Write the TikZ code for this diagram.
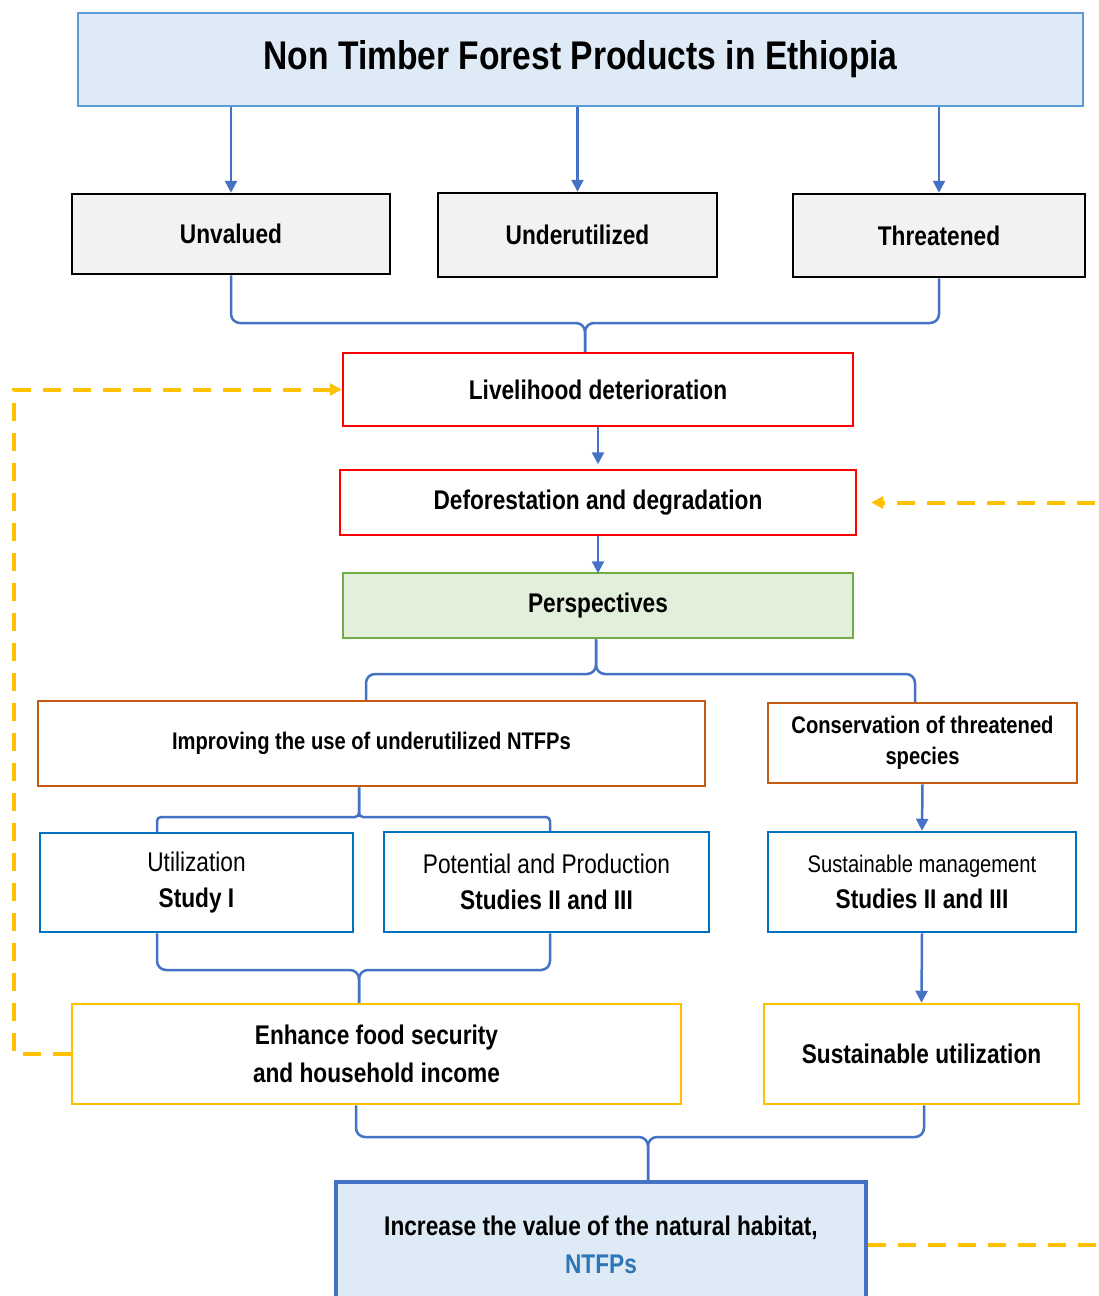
\documentclass[tikz,border=0pt]{standalone}
\usepackage{fontspec}
\setmainfont[FakeStretch=0.84]{Liberation Sans}
\usepackage{tikz}
\usetikzlibrary{arrows.meta}

\definecolor{lightblue}{HTML}{DEEBF7}
\definecolor{titleblue}{HTML}{5B9BD5}
\definecolor{linkblue}{HTML}{4472C4}
\definecolor{studyblue}{HTML}{0070C0}
\definecolor{textblue}{HTML}{2E75B6}
\definecolor{lightgrey}{HTML}{F2F2F2}
\definecolor{lightgreen}{HTML}{E2EFDA}
\definecolor{leafgreen}{HTML}{70AD47}
\definecolor{rust}{HTML}{C55A11}
\definecolor{amber}{HTML}{FFC000}

\newcommand{\bigtxt}{\fontsize{27}{36}\selectfont}
\newcommand{\smalltxt}{\fontsize{24}{31}\selectfont}

\begin{document}
\begin{tikzpicture}[x=1pt,y=-1pt,
  box/.style={draw, line width=2.5pt, align=center, inner sep=0pt, font=\bfseries\bigtxt},
  link/.style={linkblue, line width=2.5pt, -{Triangle[width=12pt,length=12pt]}},
  brace/.style={linkblue, line width=2.5pt, rounded corners=9pt},
  loop/.style={amber, line width=4pt, dash pattern=on 18pt off 12pt}]
\useasboundingbox (0,0) rectangle (1098,1296);
\clip (0,0) rectangle (1098,1296);

%%%%%%%%% top
\node[box, fill=lightblue, draw=titleblue, minimum width=1005pt, minimum height=93pt,
  font=\bfseries\fontsize{40}{48}\selectfont] (title) at (580.5,59.5)
  {Non Timber Forest Products in Ethiopia};

\node[box, fill=lightgrey, minimum width=318pt, minimum height=80pt] (unv) at (231,234) {Unvalued};
\node[box, fill=lightgrey, minimum width=279pt, minimum height=84pt] (und) at (577.5,235) {Underutilized};
\node[box, fill=lightgrey, minimum width=292pt, minimum height=83pt] (thr) at (939,235.5) {Threatened};

\draw[link] (title.south -| unv.north) -- (unv.north);
\draw[link] (title.south -| und.north) -- (und.north);
\draw[link] (title.south -| thr.north) -- (thr.north);

%%%%%%%%% middle
\node[box, draw=red, minimum width=510pt, minimum height=73pt] (liv) at (598,389.5) {Livelihood deterioration};
\node[box, draw=red, minimum width=516pt, minimum height=65pt] (def) at (598,502.5) {Deforestation and degradation};
\node[box, fill=lightgreen, draw=leafgreen, minimum width=510pt, minimum height=65pt] (per) at (598,605.5) {Perspectives};

\coordinate (b1) at (585,323);
\draw[brace] (unv.south) |- (b1) -- (b1 |- liv.north);
\draw[brace] (thr.south) |- (b1) -- (b1 |- liv.north);

\draw[link] (liv.south) -- ++(0,37);
\draw[link] (def.south) -- ++(0,37);

%%%%%%%%% perspectives
\node[box, draw=rust, minimum width=667pt, minimum height=85pt, font=\bfseries\smalltxt] (imp) at (371.5,743.5)
  {Improving the use of underutilized NTFPs};
\node[box, draw=rust, minimum width=309pt, minimum height=80pt, font=\bfseries\smalltxt] (con) at (922.5,743)
  {Conservation of threatened\\species};

\coordinate (b2) at (596,674);
\coordinate (b2l) at (366,674);
\coordinate (b2r) at (915,674);
\draw[brace] (b2 |- per.south) -- (b2) -| (b2l |- imp.north);
\draw[brace] (b2 |- per.south) -- (b2) -| (b2r |- con.north);

%%%%%%%%% studies
\node[box, draw=studyblue, minimum width=313pt, minimum height=99pt] (uti) at (196.5,882.5)
  {\mdseries Utilization\\Study I};
\node[box, draw=studyblue, minimum width=325pt, minimum height=100pt] (pot) at (546.5,882)
  {\mdseries Potential and Production\\Studies II and III};
\node[box, draw=studyblue, minimum width=308pt, minimum height=100pt] (sma) at (922,882)
  {{\mdseries\smalltxt Sustainable management}\\Studies II and III};

\coordinate (b3) at (359,817);
\coordinate (b3l) at (157,817);
\coordinate (b3r) at (550,817);
\draw[brace, rounded corners=4pt] (b3 |- imp.south) -- (b3) -| (b3l |- uti.north);
\draw[brace, rounded corners=4pt] (b3 |- imp.south) -- (b3) -| (b3r |- pot.north);

\draw[link] (con.south) -- (sma.north);

%%%%%%%%% outcomes
\node[box, draw=amber, minimum width=609pt, minimum height=100pt, font=\bfseries\fontsize{27}{38}\selectfont] (enh) at (376.5,1054)
  {Enhance food security\\and household income};
\node[box, draw=amber, minimum width=315pt, minimum height=100pt] (sut) at (921.5,1054) {Sustainable utilization};

\coordinate (b4) at (359,970);
\draw[brace] (b3l |- uti.south) |- (b4) -- (b4 |- enh.north);
\draw[brace] (b3r |- pot.south) |- (b4) -- (b4 |- enh.north);

\draw[link] (sma.south) -- (sut.north);

%%%%%%%%% bottom
\node[box, fill=lightblue, draw=linkblue, line width=4pt, minimum width=530pt, minimum height=126pt] (inc) at (601,1245)
  {Increase the value of the natural habitat,\\[2pt]\textcolor{textblue}{NTFPs}};

\coordinate (b5) at (648,1137);
\coordinate (b5l) at (356,1137);
\coordinate (b5r) at (924,1137);
\draw[brace] (b5l |- enh.south) |- (b5) -- (b5 |- inc.north);
\draw[brace] (b5r |- sut.south) |- (b5) -- (b5 |- inc.north);

%%%%%%%%% feedback loops
\coordinate (dl) at (14,0);
\coordinate (dr) at (1120,0);
\draw[loop, -{Triangle[width=12pt,length=12pt]}] (enh.west) -| (dl |- liv.west) -- (liv.west);
\draw[loop, -{Triangle[width=12pt,length=12pt]}, shorten >=14pt] (inc.east) -| (dr |- def.east) -- (def.east);

\end{tikzpicture}
\end{document}
